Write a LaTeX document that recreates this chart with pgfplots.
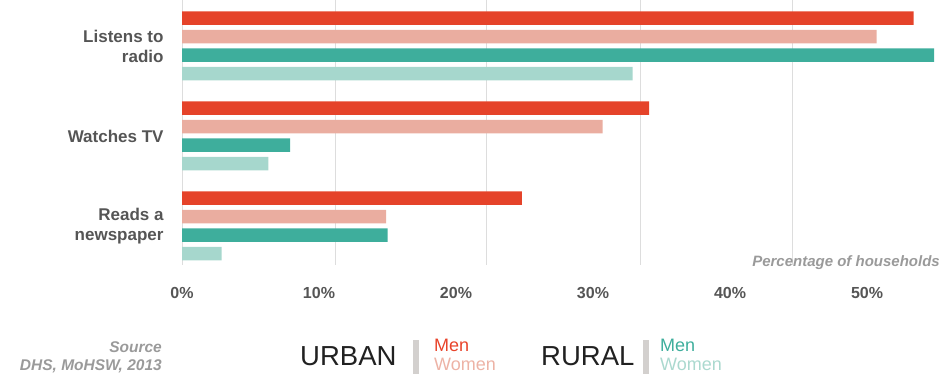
\documentclass[border=0pt]{standalone}
\usepackage{pgfplots}
\pgfplotsset{compat=1.18}
\usepackage{fontspec}
\setmainfont{Liberation Sans}
\definecolor{um}{HTML}{E5432A}
\definecolor{uw}{HTML}{EAADA0}
\definecolor{rm}{HTML}{3EAE9C}
\definecolor{rw}{HTML}{A6D7CD}
\definecolor{umt}{HTML}{E8432A}
\definecolor{uwt}{HTML}{EDB3A6}
\definecolor{rmt}{HTML}{3EAE9C}
\definecolor{rwt}{HTML}{ABD9CF}
\definecolor{gridc}{HTML}{DDDDDD}
\definecolor{cat}{HTML}{555555}
\definecolor{lite}{HTML}{9A9A9A}
\definecolor{sep}{HTML}{D3D0CE}
\begin{document}
\begin{tikzpicture}[x=1pt,y=1pt]
\path[use as bounding box] (0,0) rectangle (944,374);
\begin{axis}[
  at={(182pt,109pt)}, anchor=south west,
  scale only axis, width=762pt, height=265pt,
  xmin=0, xmax=55.62, ymin=-0.4333, ymax=2.5111,
  xbar, bar width=13.5pt,
  axis line style={draw=none}, tick style={draw=none},
  xtick={0,10,20,30,40,50},
  xticklabels={0\%,10\%,20\%,30\%,40\%,50\%},
  xticklabel style={font=\fontsize{16}{16}\selectfont\bfseries, text=cat, inner sep=0pt, yshift=-22pt},
  ytick={0,1,2},
  yticklabels={{Reads a\\newspaper},{Watches TV},{Listens to\\radio}},
  yticklabel style={font=\fontsize{17}{20}\selectfont\bfseries, align=right, text=cat, inner sep=0pt, xshift=-14pt},
  extra x ticks={0,11.17,22.26,33.43,44.53},
  extra x tick labels={},
  extra x tick style={grid=major, major grid style={draw=gridc, line width=1pt}},
  clip=false,
]
\addplot[draw=none, fill=um, bar shift=27.75pt] coordinates {(24.8,0) (34.1,1) (53.4,2)};
\addplot[draw=none, fill=uw, bar shift=9.25pt] coordinates {(14.9,0) (30.7,1) (50.7,2)};
\addplot[draw=none, fill=rm, bar shift=-9.25pt] coordinates {(15.0,0) (7.9,1) (54.9,2)};
\addplot[draw=none, fill=rw, bar shift=-27.75pt] coordinates {(2.9,0) (6.3,1) (32.9,2)};
\node[anchor=base east, inner sep=0pt, xshift=-4pt, yshift=-2pt, font=\fontsize{15}{15}\selectfont\bfseries\itshape, text=lite] at (rel axis cs:1,0) {Percentage of households};
\end{axis}
% footer
\node[anchor=base east, inner sep=0pt, font=\fontsize{15.5}{15.5}\selectfont\bfseries\itshape, text=lite] at (162,21) {Source};
\node[anchor=base east, inner sep=0pt, font=\fontsize{15.5}{15.5}\selectfont\bfseries\itshape, text=lite] at (162,3) {DHS, MoHSW, 2013};
\node[anchor=base west, inner sep=0pt, font=\fontsize{27.5}{27.5}\selectfont, text=black!87] at (300,8) {URBAN};
\fill[sep] (413,0) rectangle (419,34);
\node[anchor=base west, inner sep=0pt, font=\fontsize{18}{18}\selectfont, text=umt] at (434,22) {Men};
\node[anchor=base west, inner sep=0pt, font=\fontsize{18}{18}\selectfont, text=uwt] at (434,3) {Women};
\node[anchor=base west, inner sep=0pt, font=\fontsize{27.5}{27.5}\selectfont, text=black!87] at (541,8) {RURAL};
\fill[sep] (643,0) rectangle (649,34);
\node[anchor=base west, inner sep=0pt, font=\fontsize{18}{18}\selectfont, text=rmt] at (660,22) {Men};
\node[anchor=base west, inner sep=0pt, font=\fontsize{18}{18}\selectfont, text=rwt] at (660,3) {Women};
\end{tikzpicture}
\end{document}
